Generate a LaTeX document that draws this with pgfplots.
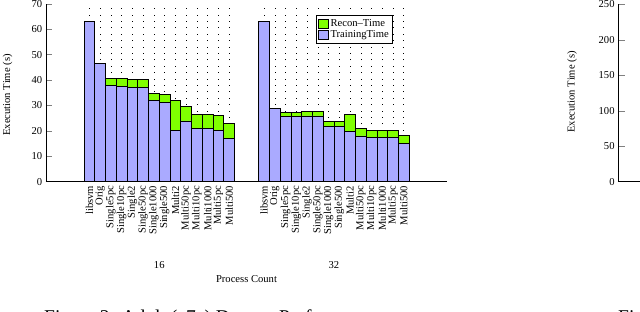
\documentclass[border=0pt]{standalone}
\usepackage{pgfplots}
\pgfplotsset{compat=1.18}
\usepackage{pgfplotstable}
\usepackage{fontspec}
\setmainfont{Liberation Serif}
\definecolor{trainc}{RGB}{170,170,255}
\definecolor{reconc}{RGB}{128,255,0}
\pgfplotstableread{
x t r
0 63.2 0
1 46.6 0
2 38.0 2.6
3 37.6 2.9
4 37.1 3.2
5 37.1 3.2
6 31.9 2.9
7 31.2 3.1
8 20.1 11.8
9 23.9 5.6
10 21.0 5.6
11 21.0 5.6
12 20.1 5.9
13 16.9 6.1
16.25 63.2 0
17.25 28.9 0
18.25 25.6 1.6
19.25 25.6 1.6
20.25 25.9 1.7
21.25 25.9 1.7
22.25 21.9 1.7
23.25 21.7 1.9
24.25 19.7 6.8
25.25 18.0 3.0
26.25 17.3 3.0
27.25 17.3 3.0
28.25 17.3 2.8
29.25 15.1 3.0
}\data
\pgfplotsset{myleg/.style={legend image code/.code={\draw[##1,line width=0.6pt] (0pt,-4.5pt) rectangle (10pt,4.5pt);}}}
\begin{document}
\fontsize{10.6}{12}\selectfont
\begin{tikzpicture}[x=1pt,y=1pt]
\useasboundingbox (0,0) rectangle (640,312);
\clip (0,0) rectangle (640,312);
\begin{axis}[
 at={(46pt,130.3pt)}, anchor=south west,
 scale only axis, width=401pt, height=177.8pt,
 xmin=-4.04, xmax=33.27, ymin=0, ymax=70,
 axis lines=left, axis line style={-, line width=0.8pt},
 ybar stacked, bar width=1,
 ytick={0,10,...,70}, ytick align=inside, major tick length=6pt,
 ytick style={line width=0.6pt},
 xtick={0,1,2,3,4,5,6,7,8,9,10,11,12,13,16.25,17.25,18.25,19.25,20.25,21.25,22.25,23.25,24.25,25.25,26.25,27.25,28.25,29.25},
 xticklabels={libsvm,Orig,Single5pc,Single10pc,Single2,Single50pc,Single1000,Single500,Multi2,Multi50pc,Multi10pc,Multi1000,Multi5pc,Multi500,libsvm,Orig,Single5pc,Single10pc,Single2,Single50pc,Single1000,Single500,Multi2,Multi50pc,Multi10pc,Multi1000,Multi5pc,Multi500},
 xtick style={draw=none},
 xticklabel style={rotate=90, anchor=east, inner sep=1pt},
 xmajorgrids,
 major grid style={black, line width=0.6pt, dash pattern=on 0.6pt off 5.8pt},
 /pgf/number format/assume math mode=true,
 ticklabel style={font=\fontsize{10.6}{12}\selectfont},
 clip=false,
 reverse legend,
 legend style={at={(axis description cs:0.673,0.9376)}, anchor=north west, draw=black, fill=white, line width=0.6pt, inner sep=1.8pt, row sep=-1.2pt, font=\fontsize{10.6}{12}\selectfont},
 legend cell align=left,
]
\addplot[fill=trainc, draw=black, line width=0.7pt, myleg] table[x=x,y=t] {\data};
\addlegendentry{TrainingTime}
\addplot[fill=reconc, draw=black, line width=0.7pt, myleg] table[x=x,y=r] {\data};
\addlegendentry{Recon--Time}
\node at (axis cs:6.5,0) [yshift=-83pt] {16};
\node at (axis cs:22.75,0) [yshift=-83pt] {32};
\node at (axis description cs:0.5,0) [yshift=-97.5pt] {Process Count};
\end{axis}
\begin{axis}[
 at={(618.3pt,130.3pt)}, anchor=south west,
 scale only axis, width=100pt, height=177.2pt,
 xmin=0, xmax=1, ymin=0, ymax=250,
 axis lines=left, axis line style={-, line width=0.8pt},
 xtick=\empty, ytick={0,50,...,250}, ytick align=inside, major tick length=7pt,
 ytick style={line width=0.6pt},
 /pgf/number format/assume math mode=true,
 ticklabel style={font=\fontsize{10.6}{12}\selectfont},
]
\addplot[draw=none] coordinates {(0,0)};
\end{axis}
\node[rotate=90] at (7.5,217) {Execution Time (s)};
\node[rotate=90] at (572,220) {Execution Time (s)};
\node[anchor=base west, inner sep=0pt, font=\fontsize{19.5}{22}\selectfont] at (44,-11.5) {Figure 2: Adult (a7a) Dataset Performance};
\node[anchor=base west, inner sep=0pt, font=\fontsize{19.5}{22}\selectfont] at (618,-11.5) {Figure 3:};
\end{tikzpicture}
\end{document}
